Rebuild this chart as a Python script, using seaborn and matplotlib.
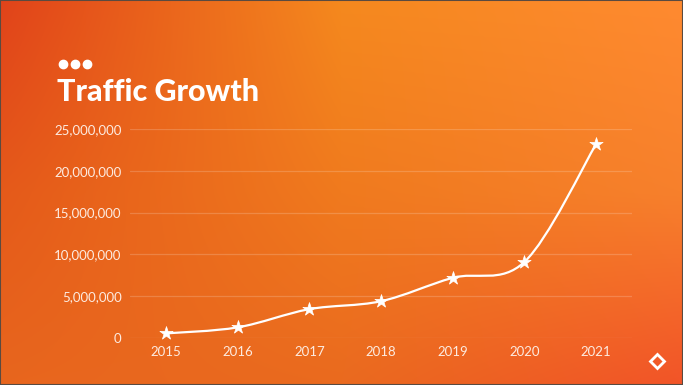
import numpy as np
import matplotlib
matplotlib.use("Agg")
import matplotlib.pyplot as plt
import seaborn as sns
from matplotlib.path import Path
from matplotlib.patches import PathPatch
from matplotlib.lines import Line2D
from matplotlib.colors import to_rgb

# data
years = ["2015", "2016", "2017", "2018", "2019", "2020", "2021"]
traffic = [550000, 1270000, 3450000, 4400000, 7200000, 9100000, 23200000]
y_ticks = [0, 5000000, 10000000, 15000000, 20000000, 25000000]
title = "Traffic Growth"

sns.set_theme(style="white")
plt.rcParams["font.family"] = ["Lato", "DejaVu Sans"]

fig = plt.figure(figsize=(6.83, 3.85), dpi=100)

# background gradient (3x3 corner colours, bilinear)
grid_cols = [["#e1431a", "#f5891e", "#ff8a30"],
             ["#e55a1a", "#f07a1e", "#f7802c"],
             ["#e8661e", "#ea6a1f", "#f25428"]]
g = np.array([[to_rgb(c) for c in row] for row in grid_cols])
h, w = 385, 683
yy = np.linspace(0, 2, h)[:, None]
xx = np.linspace(0, 2, w)[None, :]
img = np.zeros((h, w, 3))
for ch in range(3):
    gi = g[:, :, ch]
    iy = np.clip(np.floor(yy).astype(int), 0, 1)
    ix = np.clip(np.floor(xx).astype(int), 0, 1)
    fy = yy - iy
    fx = xx - ix
    c00 = gi[iy, ix]
    c01 = gi[iy, ix + 1]
    c10 = gi[iy + 1, ix]
    c11 = gi[iy + 1, ix + 1]
    img[:, :, ch] = (c00 * (1 - fx) * (1 - fy) + c01 * fx * (1 - fy)
                     + c10 * (1 - fx) * fy + c11 * fx * fy)
bg = fig.add_axes([0, 0, 1, 1])
bg.imshow(img, aspect="auto", extent=[0, 1, 0, 1], origin="upper")
bg.set_axis_off()
bg.add_patch(plt.Rectangle((0, 0), 1, 1, fill=False, edgecolor="#5a4a40",
                           linewidth=1.5, transform=bg.transAxes))

# title and dots
fig.text(57 / 683, 1 - 92 / 385, title, color="white", fontsize=22,
         fontweight="black", va="center", ha="left")
fig.add_artist(Line2D([63 / 683, 75 / 683, 87 / 683], [1 - 64 / 385] * 3,
                      marker="o", ls="", color="white", markersize=6,
                      transform=fig.transFigure))

# chart
ax = fig.add_axes([130 / 683, 1 - 338 / 385, 502 / 683, 209 / 385])
ax.patch.set_alpha(0)
x = np.arange(len(years))
y = np.array(traffic, dtype=float)

# smooth curve (bezier through the points)
pts = np.column_stack([x, y])
verts = [pts[0]]
codes = [Path.MOVETO]
n = len(pts)
for i in range(n - 1):
    p0 = pts[max(i - 1, 0)]
    p1 = pts[i]
    p2 = pts[i + 1]
    p3 = pts[min(i + 2, n - 1)]
    c1 = p1 + (p2 - p0) / 6
    c2 = p2 - (p3 - p1) / 6
    verts += [c1, c2, p2]
    codes += [Path.CURVE4] * 3
ax.add_patch(PathPatch(Path(verts, codes), fill=False, edgecolor="white",
                       linewidth=1.6, clip_on=False, zorder=3))

sns.scatterplot(x=x, y=y, marker="*", s=100, color="white",
                edgecolor="white", linewidth=0.5, ax=ax, zorder=4,
                clip_on=False)

ax.set_xlim(-0.5, len(years) - 0.5)
ax.set_ylim(0, 25000000)
ax.set_xticks(x)
ax.set_xticklabels(years)
ax.set_yticks(y_ticks)
ax.set_yticklabels([f"{v:,}" for v in y_ticks])
for v in y_ticks:
    ax.axhline(v, color="white", alpha=0.18, linewidth=0.9, zorder=1)
for s in ax.spines.values():
    s.set_visible(False)
ax.tick_params(axis="both", length=0, colors="#fdebe0", labelsize=9.5)
ax.tick_params(axis="x", pad=6)
ax.tick_params(axis="y", pad=6)
ax.set_xlabel("")
ax.set_ylabel("")
ax.grid(False)

# small logo mark
fig.add_artist(Line2D([657 / 683], [1 - 361 / 385], marker="D", ls="",
                      markersize=7, markerfacecolor="none",
                      markeredgecolor="white", markeredgewidth=2,
                      transform=fig.transFigure))

fig.savefig("out.png", dpi=100)
